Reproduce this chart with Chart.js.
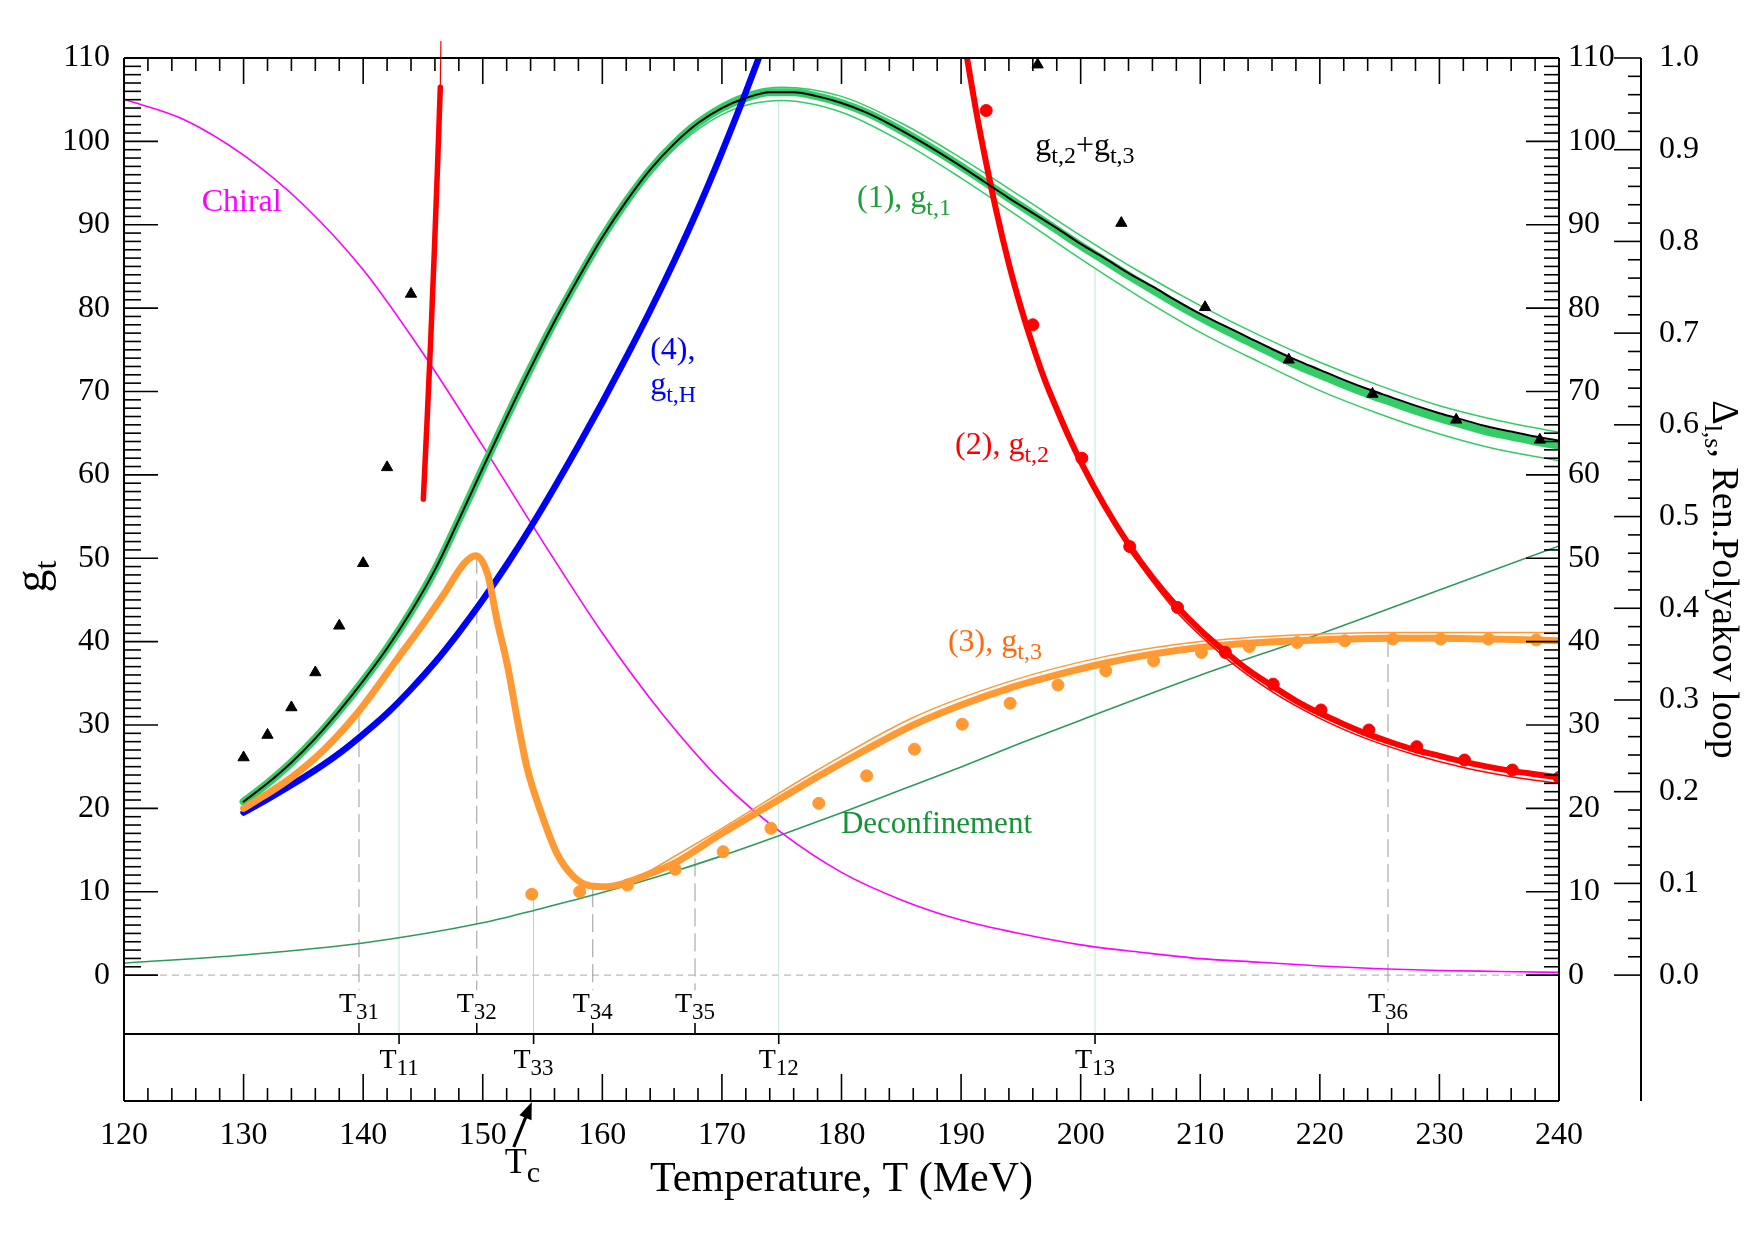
<!DOCTYPE html>
<html>
<head>
<meta charset="utf-8">
<title>g_t vs temperature</title>
<script src="https://cdn.jsdelivr.net/npm/chart.js@4.4.0/dist/chart.umd.min.js"></script>
<style>
    html, body { margin: 0; padding: 0; background: #fff; }
    canvas { display: block; }
</style>
</head>
<body>
<canvas id="chart" width="1755" height="1240"></canvas>
<script>
const SERIF = '"Liberation Serif", "DejaVu Serif", serif';

// Axis ranges and tick values
const Y_MIN = -15.1;          // bottom of the lower box (x axis line)
const Y_MAX = 110;
const BOX_SPLIT = -7.07;      // the line separating the plot from the T-label box
const DROP_END = -1.8;        // where the dashed T3x drop lines stop
const xTicks = [120, 130, 140, 150, 160, 170, 180, 190, 200, 210, 220, 230, 240];
const yTicks = [0, 10, 20, 30, 40, 50, 60, 70, 80, 90, 100, 110];
const deltaTicks = [0.0, 0.1, 0.2, 0.3, 0.4, 0.5, 0.6, 0.7, 0.8, 0.9, 1.0];

// (1) g_t,1 - green band, centre line, and the black g_t,2+g_t,3 line on top of it
const greenT = [130, 132, 134, 136, 138, 140, 142, 144, 146, 148, 150, 152, 154, 156, 158, 160, 162, 164,
    166, 168, 170, 172, 174, 176, 178, 180, 182, 184, 186, 188, 190, 192, 194, 196, 198, 200, 202, 204,
    206, 208, 210, 212, 214, 216, 218, 220, 222, 224, 226, 228, 230, 232, 234, 236, 238, 240];
const greenMid = [20.8, 23.0, 25.5, 28.4, 31.7, 35.3, 39.2, 43.6, 48.6, 54.6, 60.8, 66.9, 72.8, 78.4, 83.6, 88.5, 92.8, 96.6,
    99.7, 102.2, 104.0, 105.2, 105.9, 105.9, 105.4, 104.6, 103.5, 102.1, 100.5, 98.8, 97.0, 95.1, 93.2, 91.3, 89.4, 87.5, 85.7, 83.9,
    82.2, 80.5, 78.9, 77.4, 76.0, 74.6, 73.2, 72.0, 70.8, 69.7, 68.7, 67.7, 66.8, 66.0, 65.2, 64.6, 64.0, 63.5];
const blackSum = [20.8, 23.0, 25.5, 28.4, 31.7, 35.3, 39.2, 43.6, 48.6, 54.6, 60.8, 66.9, 72.8, 78.4, 83.6, 88.5, 92.8, 96.6,
    99.7, 102.2, 104.0, 105.2, 105.9, 105.9, 105.4, 104.6, 103.5, 102.1, 100.5, 98.8, 97.0, 95.1, 93.2, 91.4, 89.6, 87.7, 86.0, 84.2,
    82.6, 80.9, 79.3, 77.9, 76.5, 75.1, 73.8, 72.6, 71.4, 70.3, 69.3, 68.3, 67.4, 66.6, 65.8, 65.2, 64.6, 64.1];
const bandT = [140, 145, 150, 155, 160, 165, 170, 175, 180, 185, 190, 195, 200, 205, 210, 215, 220, 225, 230, 235, 240];
const bandHi = [35.3, 46.1, 60.9, 75.8, 88.8, 98.7, 104.5, 106.5, 105.4, 102.2, 98.0, 93.4, 88.7, 84.3, 80.3, 76.7, 73.5, 70.7, 68.3, 66.5, 65.1];
const bandLo = [35.3, 46.1, 60.7, 75.3, 88.0, 97.6, 103.2, 104.9, 103.5, 100.0, 95.6, 90.8, 85.9, 81.3, 77.1, 73.5, 70.1, 67.3, 64.9, 63.0, 61.7];

// (4) g_t,H - blue
const blueT = [130, 132, 134, 136, 138, 140, 142, 144, 146, 148, 150, 152, 154, 156, 158, 160, 162, 164, 166, 168, 170, 172, 174];
const blueV = [19.5, 21.1, 22.8, 24.6, 26.6, 28.9, 31.4, 34.3, 37.5, 41.1, 45.0, 49.2, 53.7, 58.5, 63.5, 68.7, 74.1, 79.7,
    85.6, 91.9, 98.7, 105.9, 113.5];

// (3) g_t,3 - orange
const orangeT = [130, 131.7, 133.9, 136.7, 139.5, 142.9, 145.1, 146.8, 148.4, 149.4, 150.4, 151.2, 152.1, 152.9, 153.7,
    154.9, 156.2, 157.6, 159.0, 160.4, 161.8, 163.5, 166, 170, 174, 178, 182, 186, 190, 194, 198, 202, 206, 210, 214,
    218, 222, 226, 230, 234, 238, 240];
const orangeV = [20.0, 21.5, 23.6, 27.0, 31.4, 38.0, 42.3, 45.8, 49.3, 50.3, 48.1, 42.5, 36.9, 30.6, 24.9,
    19.4, 14.6, 11.8, 10.7, 10.6, 11.0, 11.9, 13.4, 17.0, 20.4, 23.8, 27.0, 30.0, 32.4, 34.4, 36.0, 37.4, 38.5, 39.3, 39.8,
    40.1, 40.3, 40.4, 40.4, 40.3, 40.2, 40.1];
const orangeHiT = [163.5, 170, 178, 186, 194, 202, 210, 218, 226, 234, 240];
const orangeHiV = [12.1, 17.6, 24.6, 30.9, 35.2, 38.2, 40.0, 40.8, 41.1, 41.1, 41.1];
const orangeDotT = [154.1, 158.1, 162.1, 166.1, 170.1, 174.1, 178.1, 182.1, 186.1, 190.1, 194.1, 198.1, 202.1, 206.1,
    210.1, 214.1, 218.1, 222.1, 226.1, 230.1, 234.1, 238.1];
const orangeDotV = [9.7, 10.0, 10.8, 12.7, 14.8, 17.6, 20.6, 23.9, 27.1, 30.1, 32.6, 34.8, 36.5, 37.7,
    38.7, 39.4, 39.9, 40.1, 40.3, 40.3, 40.3, 40.2];

// (2) g_t,2 - red
const redT = [190.3, 190.5, 191.25, 192, 193, 194, 195, 196, 197, 198, 199, 200, 202, 204, 206, 208, 210, 212, 214, 216,
    218, 220, 222, 224, 226, 228, 230, 232, 234, 236, 238, 240];
const redV = [111.7, 110.0, 103.7, 98.1, 91.3, 85.3, 80.1, 75.5, 71.4, 67.9, 64.6, 61.6, 56.3, 51.7, 47.7, 44.3, 41.4, 38.9, 36.6, 34.7,
    32.9, 31.4, 30.1, 28.9, 27.9, 27.0, 26.3, 25.6, 25.0, 24.5, 24.1, 23.7];
const redLoT = [204, 208, 212, 216, 220, 224, 228, 232, 236, 240];
const redLoV = [51.0, 43.6, 38.2, 34.0, 30.8, 28.3, 26.4, 24.9, 23.8, 23.0];
const redDotT = [192.1, 196.0, 200.1, 204.1, 208.1, 212.1, 216.1, 220.1, 224.1, 228.1, 232.1, 236.1, 240.0];
const redDotV = [103.7, 78.0, 62.0, 51.4, 44.1, 38.7, 34.9, 31.8, 29.4, 27.4, 25.8, 24.6, 23.7];
const redLeftT = [145.03, 145.36, 145.67, 145.95, 146.21, 146.45];
const redLeftV = [57.1, 67.0, 76.9, 86.8, 96.7, 106.5];
const redLeftTipT = [146.45, 146.5];
const redLeftTipV = [106.5, 112.0];

// g_t,2+g_t,3 data - black triangles
const triT = [130, 132, 134, 136, 138, 140, 142, 144, 196.4, 203.4, 210.4, 217.4, 224.4, 231.4, 238.4];
const triV = [26.1, 28.8, 32.1, 36.3, 41.9, 49.4, 60.9, 81.7, 109.2, 90.2, 80.1, 73.8, 69.7, 66.6, 64.2];

// Chiral and deconfinement curves, on the right-hand Delta / Polyakov loop axis
const chiralT = [120, 125, 130, 135, 140, 145, 150, 155, 160, 165, 170, 175, 180, 185, 190, 195, 200, 205, 210, 215,
    220, 225, 230, 235, 240];
const chiralV = [0.955, 0.933, 0.894, 0.840, 0.769, 0.678, 0.577, 0.473, 0.373, 0.285, 0.211, 0.155, 0.112, 0.082,
    0.060, 0.045, 0.033, 0.025, 0.018, 0.014, 0.010, 0.007, 0.005, 0.004, 0.003];
const deconfT = [120, 130, 140, 150, 155, 160, 165, 170, 175, 180, 185, 190, 195, 200, 210, 220, 230, 240];
const deconfV = [0.013, 0.022, 0.035, 0.057, 0.073, 0.090, 0.109, 0.130, 0.153, 0.177, 0.202, 0.227, 0.253, 0.278,
    0.327, 0.372, 0.420, 0.468];

// Characteristic temperatures
const markUpName = ['31', '32', '34', '35', '36'];
const markUpT = [139.65, 149.5, 159.2, 167.75, 225.7];
const markUpTop = [31.3, 50.3, 10.3, 14.0, 40.3];
const markLowName = ['11', '33', '12', '13'];
const markLowT = [143.0, 154.25, 174.75, 201.2];
const markLowTop = [41.3, 9.5, 105.0, 84.8];
const tcT = 154.1;

const TEAL = '#bfe6dc';
const markLowColor = { '11': TEAL, '33': '#c8c8c8', '12': TEAL, '13': TEAL };

// Curve labels: [text, isSubscript] pieces, anchored at (T, g_t)
const curveLabels = [
    { at: [126.5, 91.7], color: '#ff00ff', parts: [['Chiral', 0]] },
    { at: [164.0, 73.9], color: '#0000ff', parts: [['(4),', 0]] },
    { at: [164.0, 69.7], color: '#0000ff', parts: [['g', 0], ['t,H', 1]] },
    { at: [181.3, 92.1], color: '#1f9e3a', parts: [['(1), g', 0], ['t,1', 1]] },
    { at: [196.2, 98.4], color: '#000000', parts: [['g', 0], ['t,2', 1], ['+g', 0], ['t,3', 1]] },
    { at: [189.5, 62.55], color: '#ff0000', parts: [['(2), g', 0], ['t,2', 1]] },
    { at: [188.9, 38.9], color: '#ff6a10', parts: [['(3), g', 0], ['t,3', 1]] },
    { at: [179.95, 17.0], color: '#139436', parts: [['Deconfinement', 0]], size: 31 }
];

function pts(xs, ys) {
    return xs.map((x, i) => ({ x, y: ys[i] }));
}

function seg(ctx, x1, y1, x2, y2) {
    ctx.beginPath();
    ctx.moveTo(x1, y1);
    ctx.lineTo(x2, y2);
    ctx.stroke();
}

// Draw text with subscripts, returns total width
function drawRich(ctx, parts, x, y, size, subSize, subDrop, measureOnly) {
    let cx = x;
    parts.forEach(([txt, sub]) => {
        ctx.font = (sub ? subSize : size) + 'px ' + SERIF;
        if (!measureOnly) ctx.fillText(txt, cx, y + (sub ? subDrop : 0));
        cx += ctx.measureText(txt).width;
    });
    return cx - x;
}

function lineSet(data, color, width, extra) {
    return Object.assign({
        data,
        borderColor: color,
        backgroundColor: color,
        borderWidth: width,
        pointRadius: 0,
        fill: false,
        cubicInterpolationMode: 'monotone'
    }, extra || {});
}

function dotSet(data, color, style, radius) {
    return {
        data,
        showLine: false,
        pointStyle: style,
        pointRadius: radius,
        pointBackgroundColor: color,
        pointBorderColor: color,
        pointBorderWidth: 1,
        borderColor: color,
        backgroundColor: color
    };
}

const decorations = {
    id: 'decorations',
    beforeDatasetsDraw(chart) {
        const { ctx, chartArea: a } = chart;
        const x = chart.scales.x;
        const y = chart.scales.y;
        ctx.save();
        ctx.lineWidth = 1;

        // dashed zero line
        ctx.strokeStyle = '#a8a8a8';
        ctx.setLineDash([7, 5]);
        const y0 = y.getPixelForValue(0);
        seg(ctx, a.left, y0, a.right, y0);

        // dashed drops for T31..T36
        ctx.strokeStyle = '#9a9a9a';
        ctx.setLineDash([18, 7]);
        markUpT.forEach((t, i) => {
            const px = x.getPixelForValue(t);
            seg(ctx, px, y.getPixelForValue(markUpTop[i]), px, y.getPixelForValue(DROP_END));
        });

        // solid drops for T11, T33, T12, T13
        ctx.setLineDash([]);
        markLowT.forEach((t, i) => {
            const px = x.getPixelForValue(t);
            ctx.strokeStyle = markLowColor[markLowName[i]];
            seg(ctx, px, y.getPixelForValue(markLowTop[i]), px, y.getPixelForValue(BOX_SPLIT));
        });
        ctx.restore();
    },
    afterDatasetsDraw(chart) {
        const { ctx, chartArea: a } = chart;
        const x = chart.scales.x;
        const y = chart.scales.y;
        const y3 = chart.scales.y3;
        const farX = y3.left;
        const split = y.getPixelForValue(BOX_SPLIT);
        ctx.save();

        // frame
        ctx.strokeStyle = '#000';
        ctx.lineWidth = 2;
        seg(ctx, a.left, a.top, a.right, a.top);
        seg(ctx, a.left, a.bottom, a.right, a.bottom);
        seg(ctx, a.left, a.top, a.left, a.bottom);
        seg(ctx, a.right, a.top, a.right, a.bottom);
        seg(ctx, farX, a.top, farX, a.bottom);
        seg(ctx, a.left, split, a.right, split);

        // tick marks, all pointing inwards
        ctx.lineWidth = 1.6;
        for (let v = 0; v <= 110; v++) {
            const py = y.getPixelForValue(v);
            const major = v % 10 === 0;
            seg(ctx, a.left, py, a.left + (major ? 34 : 17), py);
            seg(ctx, a.right, py, a.right - (major ? 33 : 15), py);
        }
        for (let t = 120; t <= 240; t += 2) {
            const px = x.getPixelForValue(t);
            const major = t % 10 === 0;
            seg(ctx, px, a.top, px, a.top + (major ? 26 : 13));
            seg(ctx, px, a.bottom, px, a.bottom - (major ? 27 : 13));
        }
        for (let k = 0; k <= 50; k++) {
            const py = y3.getPixelForValue(k / 50);
            const major = k % 5 === 0;
            seg(ctx, farX, py, farX - (major ? 27 : 13), py);
        }

        // characteristic temperature labels
        ctx.fillStyle = '#000';
        ctx.textBaseline = 'alphabetic';
        ctx.textAlign = 'left';
        const tLabel = (name, t, base) => {
            const px = x.getPixelForValue(t);
            const parts = [['T', 0], [name, 1]];
            const w = drawRich(ctx, parts, 0, 0, 28, 23, 7, true);
            drawRich(ctx, parts, px - w / 2, base, 28, 23, 7);
        };
        markUpT.forEach((t, i) => {
            const px = x.getPixelForValue(t);
            seg(ctx, px, split, px, split - 11);
            tLabel(markUpName[i], t, split - 22);
        });
        markLowT.forEach((t, i) => {
            const px = x.getPixelForValue(t);
            seg(ctx, px, split, px, split + 10);
            tLabel(markLowName[i], t, split + 34);
        });

        // Tc arrow below the axis
        const tipX = x.getPixelForValue(tcT);
        const tipY = a.bottom + 1;
        const tailX = tipX - 18;
        const tailY = tipY + 45;
        ctx.lineWidth = 3.2;
        seg(ctx, tailX, tailY, tipX - 4, tipY + 10);
        const ang = Math.atan2(tipY - tailY, tipX - tailX);
        ctx.beginPath();
        ctx.moveTo(tipX, tipY);
        ctx.lineTo(tipX - 17 * Math.cos(ang) + 6.5 * Math.sin(ang), tipY - 17 * Math.sin(ang) - 6.5 * Math.cos(ang));
        ctx.lineTo(tipX - 17 * Math.cos(ang) - 6.5 * Math.sin(ang), tipY - 17 * Math.sin(ang) + 6.5 * Math.cos(ang));
        ctx.closePath();
        ctx.fill();
        drawRich(ctx, [['T', 0], ['c', 1]], tipX - 27, a.bottom + 72, 36, 30, 9);

        // curve labels
        curveLabels.forEach(l => {
            ctx.fillStyle = l.color;
            const size = l.size || 32;
            drawRich(ctx, l.parts, x.getPixelForValue(l.at[0]), y.getPixelForValue(l.at[1]), size, 24, 8);
        });

        // axis titles
        ctx.fillStyle = '#000';
        const midY = (a.top + a.bottom) / 2;
        ctx.font = '42px ' + SERIF;
        ctx.textAlign = 'center';
        ctx.fillText('Temperature, T (MeV)', (a.left + a.right) / 2, a.bottom + 90);
        ctx.textAlign = 'left';

        const leftParts = [['g', 0], ['t', 1]];
        const lw = drawRich(ctx, leftParts, 0, 0, 46, 32, 10, true);
        ctx.save();
        ctx.translate(a.left - 78, midY - 3);
        ctx.rotate(-Math.PI / 2);
        drawRich(ctx, leftParts, -lw / 2, 0, 46, 32, 10);
        ctx.restore();

        const rightParts = [['\u0394', 0], ['l,s', 1], [', Ren.Polyakov loop', 0]];
        const rw = drawRich(ctx, rightParts, 0, 0, 38, 26, 8, true);
        ctx.save();
        ctx.translate(farX + 72, midY);
        ctx.rotate(Math.PI / 2);
        drawRich(ctx, rightParts, -rw / 2, 0, 38, 26, 8);
        ctx.restore();

        ctx.restore();
    }
};

const tickFont = { family: SERIF, size: 32 };

// datasets listed top-most first (Chart.js draws index 0 last)
const datasets = [
    dotSet(pts(triT, triV), '#000000', 'triangle', 6.5),
    dotSet(pts(redDotT, redDotV), '#ff0000', 'circle', 6),
    dotSet(pts(orangeDotT, orangeDotV), '#ff9933', 'circle', 6),
    lineSet(pts(greenT, blackSum), '#000000', 2),
    lineSet(pts(redLoT, redLoV), '#ff0000', 1.5),
    lineSet(pts(redT, redV), '#ff0000', 6),
    lineSet(pts(redLeftTipT, redLeftTipV), '#ff0000', 1.2, { clip: { left: 0, top: 30, right: 0, bottom: 0 } }),
    lineSet(pts(redLeftT, redLeftV), '#ff0000', 5.5),
    lineSet(pts(orangeHiT, orangeHiV), '#ff9933', 1.5),
    lineSet(pts(orangeT, orangeV), '#ff9933', 7),
    lineSet(pts(blueT, blueV), '#0000ff', 6.5),
    lineSet(pts(bandT, bandHi), '#33cc66', 1.5),
    lineSet(pts(bandT, bandLo), '#33cc66', 1.5),
    lineSet(pts(greenT, greenMid), '#33cc66', 8),
    lineSet(pts(chiralT, chiralV), '#ff00ff', 1.6, { yAxisID: 'y3' }),
    lineSet(pts(deconfT, deconfV), '#2e9a5c', 1.6, { yAxisID: 'y3' })
];

new Chart(document.getElementById('chart'), {
    type: 'line',
    data: { datasets },
    options: {
        responsive: false,
        animation: false,
        devicePixelRatio: 1,
        layout: { padding: { top: 58, left: 0, right: 0, bottom: 0 } },
        plugins: {
            legend: { display: false },
            tooltip: { enabled: false }
        },
        elements: {
            point: { radius: 0 },
            line: { borderCapStyle: 'round', borderJoinStyle: 'round' }
        },
        scales: {
            x: {
                type: 'linear',
                position: 'bottom',
                min: 120,
                max: 240,
                afterBuildTicks: s => { s.ticks = xTicks.map(v => ({ value: v })); },
                afterFit: s => { s.height = 139; },
                grid: { display: false, drawTicks: false },
                border: { display: false },
                ticks: { font: tickFont, color: '#000', padding: 15, maxRotation: 0, autoSkip: false }
            },
            y: {
                type: 'linear',
                position: 'left',
                min: Y_MIN,
                max: Y_MAX,
                afterBuildTicks: s => { s.ticks = yTicks.map(v => ({ value: v })); },
                afterFit: s => { s.width = 124; },
                grid: { display: false, drawTicks: false },
                border: { display: false },
                ticks: { font: tickFont, color: '#000', padding: 14 }
            },
            y2: {
                type: 'linear',
                position: 'right',
                weight: 0,
                min: Y_MIN,
                max: Y_MAX,
                afterBuildTicks: s => { s.ticks = yTicks.map(v => ({ value: v })); },
                afterFit: s => { s.width = 82; },
                grid: { display: false, drawTicks: false },
                border: { display: false },
                ticks: { font: tickFont, color: '#000', padding: 9 }
            },
            y3: {
                type: 'linear',
                position: 'right',
                weight: 1,
                min: Y_MIN / 110,
                max: Y_MAX / 110,
                afterBuildTicks: s => { s.ticks = deltaTicks.map(v => ({ value: v })); },
                afterFit: s => { s.width = 114; },
                grid: { display: false, drawTicks: false },
                border: { display: false },
                ticks: { font: tickFont, color: '#000', padding: 18, callback: v => v.toFixed(1) }
            }
        }
    },
    plugins: [decorations]
});
</script>
</body>
</html>
